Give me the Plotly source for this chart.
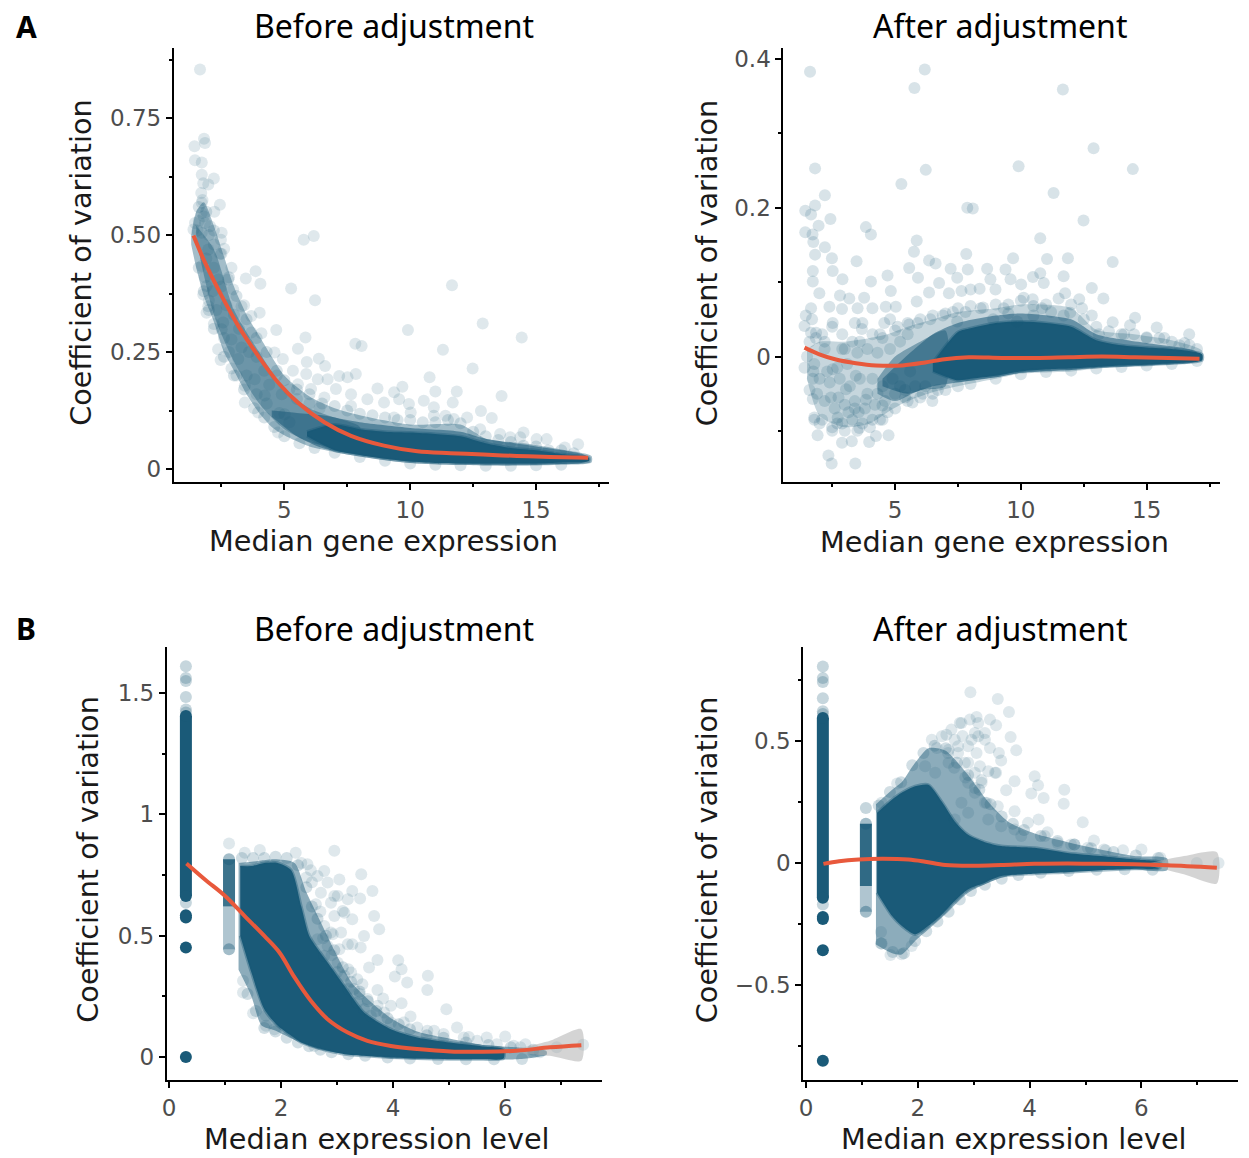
import plotly.graph_objects as go

DOT = "26,90,120"
LINE = "#E8593C"
INK = "#4D4D4D"

# ---------- Panel A, before adjustment ----------
a1_points = [(1.65,.854),(1.81,.706),(1.85,.697),(1.43,.69),(1.45,.66),(1.72,.655),(1.72,.629),(2.2,.621),(1.78,.611),(1.98,.608),
(2.44,.565),(2.22,.55),(2.51,.505),(2.48,.49),(2.61,.471),(2.9,.43),(3.86,.423),(3.47,.407),(4.05,.396),(5.27,.386),(5.77,.49),(6.17,.498),
(6.22,.361),(11.66,.393),(9.91,.297),(12.88,.311),(14.43,.281),(11.3,.255),(12.48,.215),(7.82,.268),(8.07,.263),(10.77,.196),(13.63,.156),
(11.85,.166),(11.0,.166),(8.7,.172),(9.69,.176),(12.81,.124),(13.24,.109),(11.69,.142),(4.68,.297),(5.84,.281),(5.54,.257),(5.89,.229),
(6.37,.236),(6.62,.22),(4.09,.29),(4.02,.334),(3.4,.35),(3.43,.142),(2.37,.256),(2.47,.233),(2.9,.215),
(9.36,.164),(9.56,.149),(8.96,.142),(10.54,.146),(10.94,.132),(9.36,.11),(8.3,.149),(7.65,.16),(7.84,.203),(7.51,.196),(7.18,.199),(6.72,.192),
(6.33,.192),(6.06,.171),(5.54,.181),(5.34,.21),(5.87,.203),(7.65,.135),(6.59,.153),(7.05,.171),(9.95,.139),(10.02,.121),(10.94,.114),(11.4,.114),
(12.26,.11),(12.78,.085),(13.57,.075),(14.5,.078),(14.37,.068),(15.02,.064),(15.42,.064),(16.67,.053),(16.14,.046),(13.97,.068),(11.73,.107),
(1.72,.569),(1.72,.547),(1.45,.526),(1.85,.526),(2.05,.519),(1.39,.512),(1.72,.505),(1.98,.469),(1.72,.434),(1.91,.391),(1.78,.373),(1.98,.348),
(1.91,.334),(2.38,.405),(2.77,.405),(2.97,.384),(2.57,.313),(2.51,.299),(2.9,.277),(3.17,.235),(3.82,.192),(3.43,.178),(4.22,.157),(5.01,.117),
(4.75,.078),(3.96,.121),(3.69,.327),(3.3,.348),(3.69,.292),(4.61,.249),(4.94,.235),
(1.7,.59),(1.75,.575),(1.8,.54),(1.6,.53),(1.55,.51),(2.0,.5),(2.2,.48),(2.45,.46),(1.9,.45),(2.2,.43),(1.85,.41),(2.15,.38),(2.5,.39),(2.0,.36),
(2.3,.34),(2.7,.35),(2.2,.31),(3.0,.33),(2.6,.28),(3.2,.3),(2.8,.25),(3.3,.26),(3.6,.25),(3.1,.2),(3.9,.24),(3.5,.2),(4.2,.21),(4.4,.18),(3.9,.16),(4.7,.2),
(4.3,.14),(4.9,.16),(5.2,.17),(4.8,.12),(5.5,.15),(6.0,.14),(6.4,.13),(5.2,.1)]
a1_edge = [(5,.19),(5.5,.17),(6,.16),(6.5,.14),(7,.135),(7.5,.125),(8,.118),(8.5,.115),(9,.11),(9.5,.105),(10,.105),(10.5,.1),(11,.1),(11.5,.105),(12,.098),(12.5,.08),
(13,.07),(13.5,.062),(14,.058),(14.5,.05),(15,.048),(15.5,.04),(16,.04),(16.5,.034),
(2.2,.3),(2.6,.24),(3,.2),(3.4,.17),(3.8,.13),(4.2,.11),(4.6,.09),(5,.07),(5.6,.055),(6.2,.045),(7,.035),(8,.026),(9,.018),(10,.012),(11,.009),(12,.008),(13,.007),
(14,.007),(15,.008),(16,.009),(1.6,.56),(1.9,.55),(2.2,.51),(2.5,.46),(2.8,.41),(3.1,.37),(3.5,.32),(3.9,.28),(4.3,.25),(4.7,.21),(1.6,.43),(1.8,.38),(2.0,.34)]
a1_outer_x = [1.3,1.5,1.8,2.2,2.6,3.0,3.5,4,4.5,5,6,7,8,10,12,13,14.5,16,17.2]
a1_outer_hi = [.50,.55,.57,.52,.455,.39,.33,.285,.24,.2,.155,.13,.115,.095,.095,.065,.055,.042,.028]
a1_outer_lo = [.48,.43,.37,.315,.25,.21,.16,.12,.09,.072,.048,.036,.027,.013,.009,.007,.007,.009,.014]
a1_mid_x = [1.5,2.2,3,4,5,6,7,8]
a1_mid_hi = [.52,.47,.34,.25,.17,.13,.11,.09]
a1_mid_lo = [.49,.33,.23,.14,.085,.058,.045,.035]
a1_soft_x = [4.5,5.5,6.5,8,10,12,13,15,17]
a1_soft_hi = [.125,.12,.115,.1,.088,.08,.065,.048,.028]
a1_soft_lo = [.112,.07,.045,.03,.016,.012,.01,.01,.016]
a1_core_x = [5.9,7,8,9,10,11,12,13,14,15,16,17.1]
a1_core_hi = [.08,.095,.085,.08,.078,.075,.07,.055,.045,.04,.032,.024]
a1_core_lo = [.07,.04,.03,.022,.016,.013,.012,.012,.012,.012,.014,.017]
a1_fit_x = [1.39,1.85,2.51,3.17,3.96,4.75,5.54,6.59,7.65,8.96,10.28,11.6,12.9,14.23,15.55,17.07]
a1_fit_y = [.499,.441,.37,.306,.242,.185,.142,.1,.071,.05,.038,.034,.031,.028,.026,.024]

# ---------- Panel A, after adjustment ----------
a2_points = [(1.62,.383),(5.77,.361),(6.18,.386),(11.67,.359),(12.89,.28),(1.82,.253),(6.22,.251),(9.91,.256),(14.45,.252),(5.25,.232),(2.21,.217),
(11.3,.22),(1.82,.203),(1.43,.196),(1.66,.191),(7.87,.2),(8.09,.199),(2.43,.185),(12.49,.183),(1.96,.176),(3.84,.174),(4.04,.164),(1.43,.167),
(1.72,.164),(1.75,.154),(5.86,.156),(10.77,.159),(2.21,.147),(1.82,.137),(5.75,.141),(7.83,.138),(2.49,.132),(3.47,.128),(9.69,.132),(11.04,.131),
(11.87,.132),(13.65,.127),(6.35,.129),(6.61,.125),(1.73,.115),(2.52,.115),(5.56,.119),(7.21,.118),(7.89,.117),(8.66,.118),(9.39,.117),(4.7,.109),
(5.91,.106),(7.47,.106),(9.59,.104),(10.48,.107),(10.77,.112),(11.7,.108),(2.91,.104),(4.04,.101),(1.73,.101),(6.75,.099),(8.79,.104),(4.83,.088),
(8.99,.09),(10.01,.097),(10.91,.099),(12.82,.092),(13.28,.078),(1.99,.085),(2.81,.082),(3.18,.078),(3.77,.079),(6.35,.086),(7.14,.085),(7.64,.088),
(8.0,.09),(8.36,.091),(5.86,.074),(11.76,.085),(12.32,.077),(10.11,.079),(10.47,.077),(1.66,.065),(2.39,.067),(2.89,.064),(3.51,.065),(4.1,.065),
(4.63,.067),(5.03,.067),(9.32,.065),(10.84,.065),(12.43,.065),(11.96,.059),(12.82,.055),(13.65,.046),(14.54,.052),(14.34,.042),(15.4,.039),(16.69,.03),
(9.85,.047),(7.47,.047),(2.52,.045),(1.66,.032),(1.86,.032),(3.68,.037),(5.56,.043),(4.57,.045),(1.4,.041),
(1.4,-.015),(1.79,-.01),(1.73,-.03),(1.73,-.057),(1.79,-.082),(1.92,-.106),(2.35,-.133),(2.48,-.144),(3.42,-.144),(2.89,-.116),(3.28,-.114),(3.97,-.115),
(4.74,-.106),(4.24,-.107),(2.72,-.082),(3.58,-.096),(3.84,-.058),(2.52,-.017),(3.44,-.026),(2.45,-.055),(3.05,-.044),(4.5,-.066),(5.69,-.062),(6.48,-.06),
(1.79,-.085),(2.7,-.09),(3.4,-.07),(3.9,-.05),(5.2,-.04),(5.4,-.055),
(1.45,.055),(1.7,.05),(1.6,.02),(1.85,.025),(1.5,.0),(1.75,-.02),(2.1,.03),(2.5,.04),(2.9,.03),(3.3,.02),(3.7,.045),(4.1,.03),(4.5,.025),(5,.035),(5.5,.03),
(2.0,-.03),(2.4,-.035),(2.8,-.03),(3.2,-.04),(3.6,-.03),(4.1,-.03),(4.5,-.04),(2.2,-.06),(2.6,-.07),(3.0,-.065),(3.4,-.06),(3.8,-.07),(4.2,-.065),(4.6,-.06),
(5.0,-.05),(5.4,-.045),(5.8,-.04),(6.2,-.04),(2.1,-.085),(2.5,-.095),(2.9,-.09),(3.3,-.085),(3.7,-.09),(4.1,-.085),(4.4,-.085),(1.9,-.05),(1.6,-.045),(2.3,-.02),
(2.7,-.015),(3.1,-.01),(3.5,.005),(3.9,.01),(4.3,.005),(4.8,.01),(5.2,.02),(5.9,.045),(6.4,.05),(6.9,.055),(7.3,.06),(7.8,.06),(8.4,.065),(8.9,.05),(9.5,.058),
(10.5,.055),(11.2,.06),(11.7,.055),(13.1,.03),(14.1,.03),(15.0,.025),(15.7,.025),(16.3,.015),(16.7,.015),(3.15,-.075),(3.55,-.075),(2.75,-.055),(4.3,-.05),(4.7,-.075),
(4.9,-.03),(5.6,-.02),(6.1,-.05),(6.7,-.045),(3.0,.01),(2.2,.01),(3.4,.045),(4.8,.05)]
a2_edge = [(6,.05),(6.5,.055),(7,.058),(7.5,.065),(8,.068),(8.5,.066),(9,.07),(9.5,.07),(10,.075),(10.5,.068),(11,.07),(11.5,.078),(12,.07),(12.5,.05),(13,.04),(13.5,.034),
(14,.03),(14.5,.03),(15,.026),(15.5,.025),(16,.02),(16.5,.018),(17,.01),
(2,-.09),(2.5,-.1),(3,-.1),(3.5,-.1),(4,-.095),(4.5,-.085),(5,-.07),(5.5,-.06),(6,-.055),(6.5,-.05),(7,-.045),(7.5,-.04),(8,-.037),(9,-.03),(10,-.024),(11,-.021),(12,-.019),
(13,-.016),(14,-.014),(15,-.012),(16,-.01),(17,-.006),(2.2,.02),(2.9,.01),(3.6,.02),(4.4,.03),(5.1,.04),(5.5,.045)]
a2_outer_x = [1.5,2,3,4,4.7,5.5,6.5,7.5,9,10,12,13,14.5,16,17.2]
a2_outer_hi = [.01,.02,.02,.025,.03,.04,.05,.06,.065,.07,.065,.036,.03,.022,.008]
a2_outer_lo = [-.03,-.08,-.095,-.09,-.075,-.06,-.048,-.04,-.03,-.023,-.02,-.016,-.013,-.01,-.006]
a2_mid_x = [4.3,5,6,7]
a2_mid_hi = [-.03,.0,.02,.035]
a2_mid_lo = [-.05,-.06,-.045,-.04]
a2_soft_x = [4.5,5.5,6.5,7.5,9,10,12,13,15,17]
a2_soft_hi = [-.03,.002,.03,.045,.055,.058,.05,.03,.018,.006]
a2_soft_lo = [-.04,-.05,-.04,-.035,-.028,-.022,-.018,-.015,-.012,-.006]
a2_core_x = [6.5,7.5,8,9,10,11,12,13,14,15,16,17.2]
a2_core_hi = [-.008,.033,.038,.045,.047,.045,.04,.022,.015,.012,.01,.003]
a2_core_lo = [-.02,-.032,-.03,-.026,-.02,-.017,-.016,-.014,-.012,-.011,-.009,-.005]
a2_fit_x = [1.4,1.99,2.65,3.44,4.24,5.29,6.2,6.88,7.93,9.25,10.58,11.9,13.22,14.54,15.86,17.1]
a2_fit_y = [.012,.003,-.004,-.009,-.012,-.012,-.008,-.004,-.001,-.002,-.002,-.001,0,-.001,-.002,-.003]

# ---------- Panel B, before adjustment ----------
b1_column_x = .3
b1_column_light = [1.61,1.562,1.549,1.484,1.432,1.42,.636]
b1_column_lo, b1_column_hi = .664, 1.405
b1_column_dark = [1.405,.664,.584,.575,.451,0]
b1_second_x = 1.07
b1_second_lo, b1_second_hi = .62, .815
b1_second_tail_lo = .444
b1_points = [(1.07,.88),(1.35,.842),(1.62,.853),(2.26,.842),(2.95,.85),(3.43,.753),(3.63,.684),(3.41,.653),(3.27,.684),(3.04,.732),(2.77,.767),(2.47,.794),
(3.66,.581),(3.75,.527),(3.27,.568),(3.1,.602),(3.48,.499),(3.27,.465),(3.42,.451),(3.04,.444),(2.92,.506),(2.95,.664),(3.72,.4),(4.09,.399),(4.15,.362),
(4.03,.332),(4.25,.307),(4.62,.335),(4.61,.276),(4.95,.197),(5.14,.122),(4.31,.167),(4.15,.222),(3.96,.211),(3.72,.276),(3.82,.241),(3.57,.369),(3.2,.362),
(3.45,.3),(6.0,.085),(5.67,.081),(5.35,.083),(4.73,.108),(6.36,.053),(6.15,.047),(7.39,.051),(6.92,.04),(6.62,.02),(1.32,.314),(1.32,.266),(1.5,.181),
(1.73,.129),(1.88,.115),(1.73,.17),(2.59,.046),
(2.36,.8),(2.53,.77),(2.65,.746),(2.83,.719),(2.71,.677),(2.89,.636),(3.01,.664),(3.19,.65),(2.95,.581),(3.13,.595),(2.77,.54),(2.89,.513),(3.07,.513),(2.65,.485),
(2.83,.458),(3.19,.465),(2.77,.417),(3.01,.389),(3.25,.348),(3.13,.335),(3.36,.321),(3.3,.28),(3.54,.239),(3.72,.211),(3.84,.184),(3.48,.197),(3.36,.225),(3.6,.17),
(3.96,.142),(4.19,.142),(4.43,.122),(4.61,.108),(4.9,.095),(5.26,.081),(5.5,.067),(5.85,.053),(6.27,.04),(6.5,.02),(2.55,.72),(2.7,.6),(2.62,.63),(2.75,.49),(2.9,.42),
(3.0,.35),(3.2,.28),(3.4,.26),(2.45,.74)]
b1_edge = [(1.4,.26),(1.55,.19),(1.7,.12),(1.9,.105),(2.1,.08),(2.3,.06),(2.5,.045),(2.7,.03),(2.9,.02),(3.2,.012),(3.5,.005),(3.9,-.002),(4.3,-.006),(4.8,-.008),(5.3,-.009),(5.8,-.009),(6.3,-.008),
(1.3,.82),(1.5,.82),(1.7,.82),(1.9,.825),(2.1,.82),(2.3,.79),(2.45,.7),(2.55,.62),(2.65,.57),(2.8,.5),(2.95,.44),(3.1,.37),(3.25,.31),(3.4,.27),(3.55,.23),(3.7,.19),(3.9,.16),(4.1,.135),
(4.3,.115),(4.6,.09),(4.9,.08),(5.3,.06),(5.7,.05),(6.1,.04),(6.5,.03)]
b1_outer_x = [1.24,1.47,1.65,1.88,2.24,2.45,2.7,2.95,3.25,3.54,3.96,4.43,5.02,5.6,6.2,6.74]
b1_outer_hi = [.8,.805,.81,.815,.8,.68,.56,.44,.31,.24,.16,.105,.075,.05,.04,.024]
b1_outer_lo = [.36,.25,.13,.11,.07,.05,.03,.02,.012,.005,-.006,-.009,-.009,-.009,-.009,.01]
b1_core_x = [1.27,1.47,1.7,1.94,2.18,2.36,2.5,2.7,2.83,3.13,3.48,3.96,4.43,5.02,5.6,5.97]
b1_core_hi = [.787,.787,.8,.8,.77,.62,.5,.43,.39,.293,.184,.115,.081,.06,.044,.033]
b1_core_lo = [.5,.348,.197,.129,.088,.06,.048,.034,.026,.012,.005,-.002,-.006,-.009,-.009,-.006]
b1_fit_x = [.31,.64,1.0,1.35,1.7,1.97,2.24,2.53,2.83,3.19,3.54,3.96,4.43,5.02,5.6,6.2,6.8,7.36]
b1_fit_y = [.798,.732,.664,.581,.499,.431,.328,.232,.156,.101,.067,.046,.033,.023,.022,.026,.04,.049]
b1_ci_x = [6.2,6.8,7.36]
b1_ci_hi = [.034,.067,.115]
b1_ci_lo = [.018,.005,-.015]

# ---------- Panel B, after adjustment ----------
b2_column_x = .3
b2_column_light = [.805,.757,.741,.675,.621,.61,-.17]
b2_column_lo, b2_column_hi = -.143, .594
b2_column_dark = [.594,-.143,-.222,-.23,-.358,-.811]
b2_second_x = 1.07
b2_second_lo, b2_second_hi = -.095, .16
b2_second_tail_lo = -.2
b2_second_top = .225
b2_points = [(2.94,.699),(3.43,.671),(3.63,.618),(3.05,.598),(2.75,.573),(3.29,.587),(3.4,.564),(2.51,.525),(2.25,.505),(3.66,.516),(3.76,.461),(3.29,.471),
(2.96,.505),(3.02,.532),(2.34,.471),(3.49,.42),(3.11,.396),(3.4,.369),(3.73,.335),(4.09,.355),(4.15,.318),(4.03,.284),(4.25,.266),(4.62,.3),(4.61,.242),
(4.95,.167),(3.58,.298),(3.02,.307),(3.23,.246),(4.16,.178),(3.73,.212),(4.32,.126),(5.15,.092),(6.0,.055),(5.67,.052),(1.63,.325),(1.35,.246),(1.34,-.33),
(1.51,-.377),(1.71,-.374),(1.34,-.283),(1.89,-.34),(7.38,.0),(6.99,.0),(6.34,.021),(5.36,.052),(4.74,.075),(2.54,.45),(2.72,.478),(2.9,.41),(3.2,.505),(3.14,.34),
(2.65,.39),(2.85,.35),(3.05,.45),(2.8,.52),(3.45,.45),
(2.13,.396),(2.31,.369),(2.55,.41),(2.72,.45),(2.9,.478),(3.08,.519),(2.66,.505),(2.55,.464),(2.84,.41),(3.02,.369),(3.26,.375),(3.38,.369),(2.9,.328),(3.14,.328),
(3.02,.287),(2.78,.246),(3.2,.246),(3.43,.232),(2.9,.205),(3.26,.178),(3.49,.15),(3.73,.137),(3.97,.164),(3.85,.11),(2.66,.178),(4.27,.11),(4.5,.082),(4.8,.075),
(5.04,.062),(5.33,.055),(2.6,.546),(2.78,.573),(2.93,.587),(2.43,.519),(3.2,.532),(3.08,.573)]
b2_edge = [(1.3,.235),(1.5,.29),(1.7,.33),(1.9,.4),(2.1,.45),(2.3,.48),(2.5,.47),(2.7,.41),(2.9,.36),(3.1,.3),(3.3,.24),(3.5,.19),(3.7,.16),(3.9,.135),(4.2,.11),(4.5,.09),(4.8,.075),
(5.1,.06),(5.5,.045),(5.9,.03),(6.3,.02),
(1.35,-.33),(1.55,-.365),(1.75,-.37),(1.95,-.32),(2.15,-.28),(2.35,-.24),(2.55,-.2),(2.75,-.15),(2.95,-.115),(3.2,-.09),(3.5,-.065),(3.8,-.05),(4.2,-.04),(4.7,-.033),(5.2,-.028),(5.7,-.026),(6.2,-.028)]
b2_outer_x = [1.25,1.54,1.71,1.95,2.19,2.49,2.9,3.26,3.61,4.09,4.68,5.27,5.87,6.46]
b2_outer_hi = [.24,.3,.33,.41,.47,.46,.36,.25,.17,.12,.085,.055,.028,.018]
b2_outer_lo = [-.334,-.37,-.375,-.32,-.272,-.211,-.122,-.081,-.054,-.04,-.033,-.027,-.027,-.03]
b2_core_x = [1.27,1.54,1.71,1.95,2.19,2.43,2.66,2.9,3.2,3.49,4.09,4.68,5.27,5.87,6.34]
b2_core_hi = [.205,.26,.287,.314,.32,.25,.17,.115,.085,.069,.062,.041,.028,.014,.003]
b2_core_lo = [-.122,-.218,-.258,-.293,-.258,-.211,-.156,-.108,-.081,-.054,-.044,-.038,-.03,-.024,-.02]
b2_fit_x = [.31,.59,.94,1.36,1.83,2.13,2.49,3.02,3.49,4.09,4.68,5.27,5.87,6.46,7.35]
b2_fit_y = [-.004,.007,.014,.017,.014,.005,-.009,-.012,-.009,-.004,-.002,-.004,-.006,-.01,-.02]
b2_ci_x = [6.16,6.76,7.35]
b2_ci_hi = [.0,.028,.044]
b2_ci_lo = [-.013,-.047,-.084]

TITLES = ["Before adjustment", "After adjustment"]
XT_A, XT_B, YT = "Median gene expression", "Median expression level", "Coefficient of variation"

fig = go.Figure()

def band(ax, x, hi, lo, alpha, rim=0, rim_alpha=0, rgb=DOT):
    fig.add_trace(go.Scatter(x=x + x[::-1], y=hi + lo[::-1], fill="toself", fillcolor=f"rgba({rgb},{alpha})", mode="lines",
                             line=dict(width=rim, color=f"rgba({rgb},{rim_alpha})", shape="spline", smoothing=.7),
                             hoverinfo="skip", showlegend=False, xaxis="x" + ax, yaxis="y" + ax))

def dots(ax, pts, alpha=.14):
    fig.add_trace(go.Scatter(x=[p[0] for p in pts], y=[p[1] for p in pts], mode="markers",
                             marker=dict(size=12, color=f"rgba({DOT},{alpha})", line=dict(width=0)),
                             showlegend=False, xaxis="x" + ax, yaxis="y" + ax))

def fit(ax, x, y):
    fig.add_trace(go.Scatter(x=x, y=y, mode="lines", line=dict(color=LINE, width=4, shape="spline"),
                             showlegend=False, xaxis="x" + ax, yaxis="y" + ax))

def bar(ax, x, lo, hi, alpha, width=12):
    fig.add_trace(go.Scatter(x=[x, x], y=[lo, hi], mode="lines", line=dict(color=f"rgba({DOT},{alpha})", width=width),
                             showlegend=False, xaxis="x" + ax, yaxis="y" + ax))

# A, before
band("", a1_outer_x, a1_outer_hi, a1_outer_lo, .4)
band("", a1_mid_x, a1_mid_hi, a1_mid_lo, .4)
dots("", a1_edge, .17)
band("", a1_soft_x, a1_soft_hi, a1_soft_lo, .55)
band("", a1_core_x, a1_core_hi, a1_core_lo, 1, 3, .4)
dots("", a1_points)
fit("", a1_fit_x, a1_fit_y)
# A, after
band("2", a2_outer_x, a2_outer_hi, a2_outer_lo, .25)
band("2", a2_mid_x, a2_mid_hi, a2_mid_lo, .45)
dots("2", a2_edge, .17)
band("2", a2_soft_x, a2_soft_hi, a2_soft_lo, .55)
band("2", a2_core_x, a2_core_hi, a2_core_lo, 1, 3, .4)
dots("2", a2_points, .17)
fit("2", a2_fit_x, a2_fit_y)
# B, before
band("3", b1_outer_x, b1_outer_hi, b1_outer_lo, .5)
dots("3", b1_edge, .2)
band("3", b1_core_x, b1_core_hi, b1_core_lo, 1, 3, .4)
bar("3", b1_column_x, b1_column_lo, b1_column_hi, 1)
dots("3", [(b1_column_x, v) for v in b1_column_light], .25)
dots("3", [(b1_column_x, v) for v in b1_column_dark], 1)
bar("3", b1_second_x, b1_second_tail_lo, b1_second_lo, .35)
bar("3", b1_second_x, b1_second_lo, b1_second_hi, .85)
dots("3", [(b1_second_x, b1_second_hi), (b1_second_x, b1_second_tail_lo)], .4)
dots("3", b1_points)
band("3", b1_ci_x, b1_ci_hi, b1_ci_lo, .5, rgb="170,170,170")
fit("3", b1_fit_x, b1_fit_y)
# B, after
band("4", b2_outer_x, b2_outer_hi, b2_outer_lo, .5)
dots("4", b2_edge, .2)
band("4", b2_core_x, b2_core_hi, b2_core_lo, 1, 3, .4)
bar("4", b2_column_x, b2_column_lo, b2_column_hi, 1)
dots("4", [(b2_column_x, v) for v in b2_column_light], .25)
dots("4", [(b2_column_x, v) for v in b2_column_dark], 1)
bar("4", b2_second_x, b2_second_tail_lo, b2_second_lo, .35)
bar("4", b2_second_x, b2_second_lo, b2_second_hi, .9)
dots("4", [(b2_second_x, b2_second_hi), (b2_second_x, b2_second_tail_lo)], .4)
dots("4", [(b2_second_x, b2_second_top)], .25)
dots("4", b2_points)
band("4", b2_ci_x, b2_ci_hi, b2_ci_lo, .5, rgb="170,170,170")
fit("4", b2_fit_x, b2_fit_y)

W, H = 1249, 1158
# Small residual page offset, taken back from everything placed in pixels.
DX, DY = 2.5, 2

def axes(suffix, left, right, top, bottom, xr, yr, xt, xl, xm, yt, yl, ym):
    common = dict(showgrid=False, zeroline=False, showline=True, linecolor="black", linewidth=2, ticks="outside",
                  ticklen=6, tickwidth=2, tickcolor="black", tickfont=dict(family="DejaVu Sans", size=23, color=INK),
                  tickmode="array")
    minor = dict(ticks="outside", ticklen=3, tickwidth=2, tickcolor="black")
    fig.layout["xaxis" + suffix] = dict(common, domain=[(left - DX) / W, (right - DX) / W], range=xr, anchor="y" + suffix,
                                        tickvals=xt, ticktext=xl, minor=dict(minor, tickvals=xm))
    fig.layout["yaxis" + suffix] = dict(common, domain=[1 - (bottom - DY) / H, 1 - (top - DY) / H], range=yr, anchor="x" + suffix,
                                        tickvals=yt, ticktext=yl, minor=dict(minor, tickvals=ym))

axes("", 172, 609, 48, 483, [.61, 17.9], [-.028, .9], [5, 10, 15], ["5", "10", "15"], [2.5, 7.5, 12.5, 17.5],
     [0, .25, .5, .75], ["0", "0.25", "0.50", "0.75"], [.125, .375, .625, .875])
axes("2", 784, 1222, 48, 483, [.56, 17.9], [-.169, .415], [5, 10, 15], ["5", "10", "15"], [2.5, 7.5, 12.5, 17.5],
     [0, .2, .4], ["0", "0.2", "0.4"], [-.1, .1, .3])
axes("3", 165, 602, 648, 1082, [-.04, 7.73], [-.095, 1.69], [0, 2, 4, 6], ["0", "2", "4", "6"], [1, 3, 5, 7],
     [0, .5, 1, 1.5], ["0", "0.5", "1", "1.5"], [.25, .75, 1.25])
axes("4", 804, 1240, 648, 1082, [-.05, 7.72], [-.89, .885], [0, 2, 4, 6], ["0", "2", "4", "6"], [1, 3, 5, 7],
     [-.5, 0, .5], ["\u22120.5", "0", "0.5"], [-.75, -.25, .25, .75])

def text(s, px, py, family, size, color="black", angle=0, bold=False):
    fig.add_annotation(text=f"<b>{s}</b>" if bold else s, x=(px - DX) / W, y=1 - (py - DY) / H, xref="paper", yref="paper",
                       xanchor="center", yanchor="middle", showarrow=False, textangle=angle,
                       font=dict(family=family, size=size, color=color))

for s, px, py in [(TITLES[0], 393, 26), (TITLES[1], 1001, 26), (TITLES[0], 393, 630), (TITLES[1], 1001, 630)]:
    text(s, px, py, "Noto Sans", 32)
for s, px, py in [(XT_A, 383, 542), (XT_A, 996, 543), (XT_B, 376, 1141), (XT_B, 1016, 1141)]:
    text(s, px, py, "DejaVu Sans", 28.7, "#1A1A1A")
for px, py in [(78, 263), (707, 263), (85, 861), (707, 861)]:
    text(YT, px, py, "DejaVu Sans", 28.7, "#1A1A1A", angle=-90)
text("A", 24, 27, "Noto Sans", 30, bold=True)
text("B", 24, 630, "Noto Sans", 30, bold=True)

fig.update_layout(width=W, height=H, margin=dict(l=0, r=0, t=0, b=0), paper_bgcolor="white", plot_bgcolor="white",
                  showlegend=False, hovermode=False)
fig.write_html("out.html", config={"displayModeBar": False}, post_script="document.body.style.margin='0';")
